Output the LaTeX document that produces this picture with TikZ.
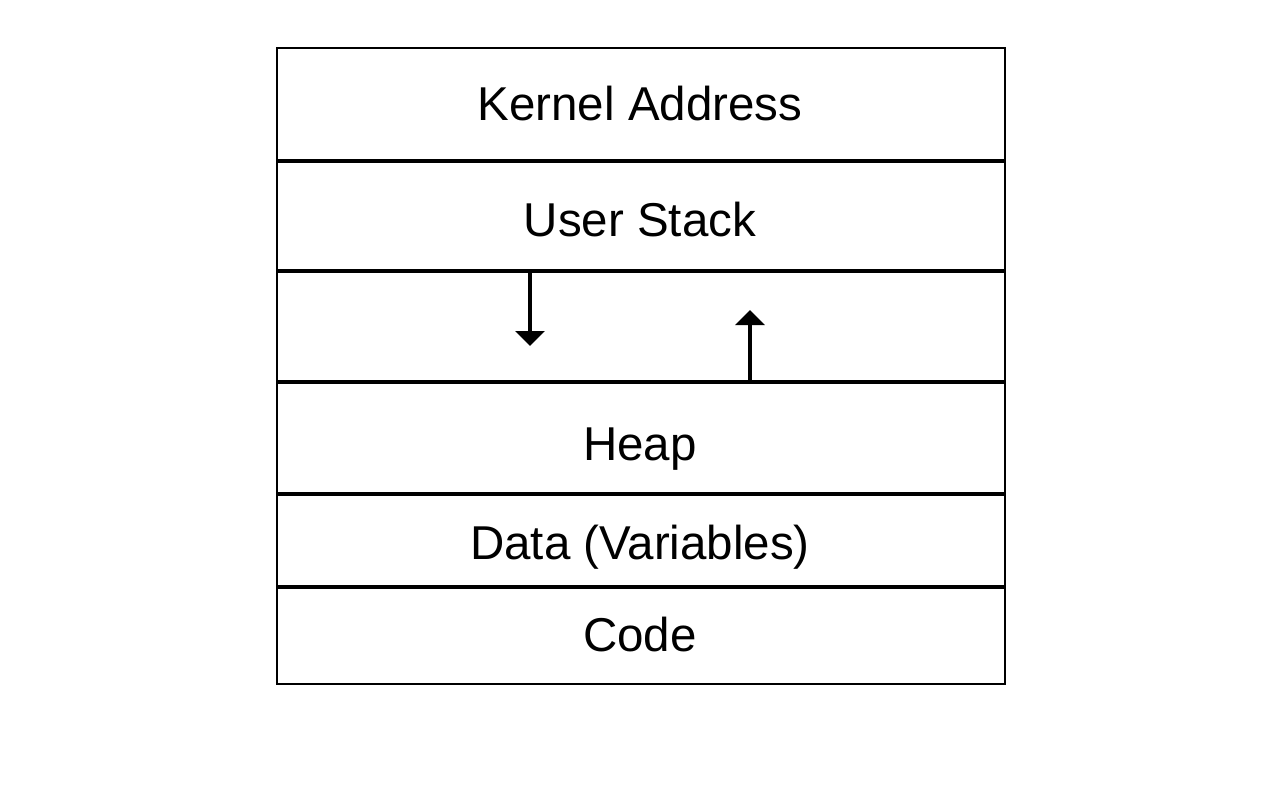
\documentclass[tikz,border=0pt]{standalone}
\usepackage{fontspec}
\setmainfont{Liberation Sans}
\usetikzlibrary{arrows.meta}
\begin{document}
\begin{tikzpicture}[x=1pt,y=-1pt,
  lbl/.style={anchor=base,inner sep=0pt,font=\fontsize{47.5}{56}\selectfont},
  divider/.style={line width=4pt},
  growarrow/.style={line width=3.5pt,-{Triangle[width=29pt,length=15pt]}}]
\useasboundingbox (0,0) rectangle (1280,800);
\draw[line width=2.5pt] (277,48) rectangle (1005,684);
\coordinate (s1l) at (277,161); \coordinate (s1r) at (1005,161);
\coordinate (s2l) at (277,271); \coordinate (s2r) at (1005,271);
\coordinate (s3l) at (277,382); \coordinate (s3r) at (1005,382);
\coordinate (s4l) at (277,494); \coordinate (s4r) at (1005,494);
\coordinate (s5l) at (277,587); \coordinate (s5r) at (1005,587);
\draw[divider] (s1l) -- (s1r);
\draw[divider] (s2l) -- (s2r);
\draw[divider] (s3l) -- (s3r);
\draw[divider] (s4l) -- (s4r);
\draw[divider] (s5l) -- (s5r);
\node[lbl] (kernel) at (640,120) {Kernel Address};
\node[lbl] (stack) at (640,236) {User Stack};
\node[lbl] (heap) at (640,460) {Heap};
\node[lbl] (data) at (640,559) {Data (Variables)};
\node[lbl] (code) at (640,651) {Code};
\coordinate (dstart) at (530,271);
\coordinate (dend) at (530,346);
\coordinate (ustart) at (750,382);
\coordinate (uend) at (750,310);
\draw[growarrow] (dstart) -- (dend);
\draw[growarrow] (ustart) -- (uend);
\end{tikzpicture}
\end{document}
